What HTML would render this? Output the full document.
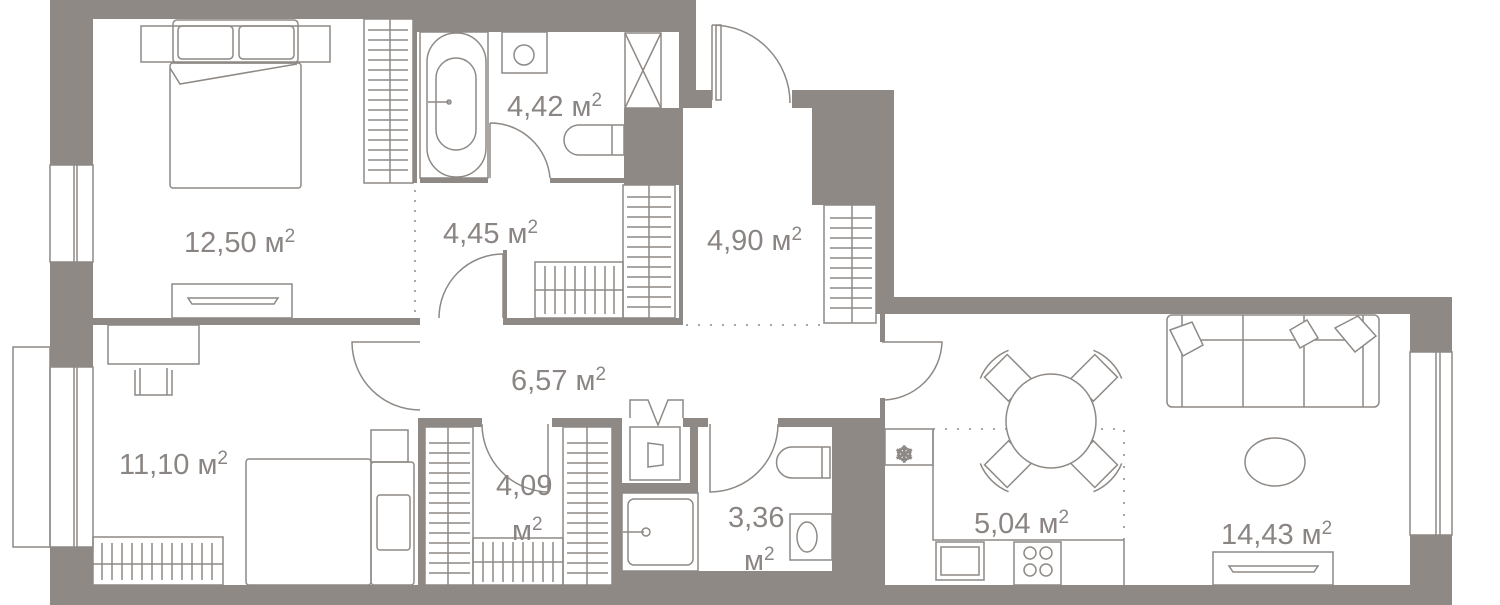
<!DOCTYPE html>
<html><head><meta charset="utf-8"><style>
html,body{margin:0;padding:0;background:#fff;width:1500px;height:605px;overflow:hidden}
svg{display:block}
text{font-family:"Liberation Sans Narrow","Liberation Sans",sans-serif;fill:#8a8582;font-size:29px}
</style></head><body>
<svg width="1500" height="605" viewBox="0 0 1500 605" xmlns="http://www.w3.org/2000/svg">
<g fill="#8e8985">
<rect x="50" y="0" width="646" height="19"/>
<rect x="413" y="19" width="283" height="13"/>
<rect x="679" y="0" width="17" height="90"/>
<rect x="679" y="90" width="33" height="18"/>
<rect x="624" y="108" width="59" height="77"/>
<rect x="679" y="108" width="4" height="217"/>
<rect x="50" y="0" width="43" height="165"/>
<rect x="50" y="262" width="43" height="105"/>
<rect x="50" y="547" width="43" height="58"/>
<rect x="93" y="318" width="327" height="7"/>
<rect x="503" y="318" width="180" height="7"/>
<rect x="420" y="178" width="68" height="5"/>
<rect x="550" y="178" width="74" height="5"/>
<rect x="413" y="19" width="4" height="164"/>
<rect x="503" y="250" width="4" height="75"/>
<rect x="792" y="90" width="102" height="18"/>
<rect x="812" y="108" width="82" height="97"/>
<rect x="876" y="205" width="18" height="95"/>
<rect x="876" y="297" width="534" height="17"/>
<rect x="1410" y="297" width="42" height="55"/>
<rect x="1410" y="535" width="42" height="70"/>
<rect x="50" y="585" width="1402" height="20"/>
<rect x="880" y="314" width="5" height="28"/>
<rect x="880" y="398" width="5" height="30"/>
<rect x="832" y="418" width="53" height="167"/>
<rect x="418" y="418" width="64" height="9"/>
<rect x="552" y="418" width="70" height="9"/>
<rect x="683" y="418" width="25" height="9"/>
<rect x="778" y="418" width="54" height="9"/>
<rect x="418" y="418" width="7" height="167"/>
<rect x="612" y="418" width="10" height="167"/>
<rect x="690" y="418" width="8" height="75"/>
<rect x="622" y="483" width="76" height="10"/>
<rect x="622" y="571" width="210" height="14"/>
</g>
<g fill="none" stroke="#8e8985" stroke-width="1.5">
<rect x="50" y="165" width="43" height="97"/><line x1="74" y1="165" x2="74" y2="262"/><line x1="77" y1="165" x2="77" y2="262"/>
<rect x="13" y="347" width="37" height="200"/><rect x="50" y="367" width="43" height="180"/><line x1="74" y1="367" x2="74" y2="547"/><line x1="77" y1="367" x2="77" y2="547"/>
<rect x="1410" y="352" width="42" height="183"/><line x1="1436" y1="352" x2="1436" y2="535"/><line x1="1440" y1="352" x2="1440" y2="535"/>
<rect x="141" y="26" width="189" height="36"/>
<rect x="173" y="20" width="125" height="43" rx="4"/>
<rect x="178" y="26" width="55" height="33" rx="4"/><rect x="239" y="26" width="55" height="33" rx="4"/>
<rect x="170" y="63" width="131" height="125" rx="3"/>
<polyline points="170,68 180,84 297,64"/>
<rect x="172" y="284" width="120" height="34"/><path d="M188 298 H278 L274 304 H192 Z"/>
<rect x="364" y="19" width="49" height="164"/><line x1="390" y1="19" x2="390" y2="183"/>
<path d="M368 30H408M368 40H408M368 50H408M368 60H408M368 70H408M368 80H408M368 90H408M368 100H408M368 110H408M368 120H408M368 130H408M368 140H408M368 150H408M368 160H408M368 170H408"/>
<rect x="420" y="32" width="68" height="146"/>
<rect x="427" y="33" width="59" height="144" rx="29"/><rect x="436" y="58" width="40" height="92" rx="20"/>
<line x1="428" y1="102" x2="450" y2="102"/><circle cx="449" cy="102" r="2"/>
<rect x="502" y="32" width="45" height="41"/><circle cx="524" cy="55" r="10"/>
<rect x="625" y="33" width="36" height="75"/><path d="M625 33L661 108M661 33L625 108"/>
<path d="M579 125 H624 V155 H579 A15 15 0 0 1 579 125Z"/><line x1="612" y1="125" x2="612" y2="155"/>
<path d="M490 123 V178 M490 123 A60 60 0 0 1 550 178"/>
<line x1="415" y1="190" x2="415" y2="318" stroke-dasharray="2 8"/>
<path d="M503 254 V318 M503 254 A64 64 0 0 0 439 318"/>
<rect x="535" y="262" width="88" height="56"/><line x1="535" y1="290" x2="623" y2="290"/>
<path d="M545 266V314M555 266V314M565 266V314M575 266V314M585 266V314M595 266V314M605 266V314M614 266V314"/>
<rect x="623" y="185" width="52" height="133"/><line x1="649" y1="185" x2="649" y2="318"/>
<path d="M627 197H671M627 207H671M627 217H671M627 227H671M627 237H671M627 247H671M627 257H671M627 267H671M627 277H671M627 287H671M627 297H671M627 307H671"/>
<path d="M712 25 V100 M712 25 A78 78 0 0 1 790 103"/><rect x="716" y="25" width="5" height="75"/>
<rect x="824" y="205" width="52" height="118"/><line x1="852" y1="205" x2="852" y2="323"/>
<path d="M830 218H872M830 228H872M830 238H872M830 248H872M830 258H872M830 268H872M830 278H872M830 288H872M830 298H872M830 308H872"/>
<line x1="686" y1="325" x2="820" y2="325" stroke-dasharray="2 10"/>
<path d="M420 342 H352 A68 68 0 0 0 420 410"/>
<path d="M882 342 H942 A60 60 0 0 1 882 400"/>
<path d="M482 424 A68 68 0 0 0 548 492 V424"/>
<path d="M778 424 A68 68 0 0 1 710 492 V424"/>
<path d="M630 418 V400 H648 L658 425 L668 400 H683 V418"/>
<rect x="108" y="325" width="91" height="39"/>
<path d="M135 370 V395 H172 V370 M140 368 V395 M167 368 V395"/>
<rect x="93" y="537" width="130" height="48"/><line x1="93" y1="564" x2="223" y2="564"/>
<path d="M102 543V580M112 543V580M122 543V580M132 543V580M142 543V580M152 543V580M162 543V580M172 543V580M182 543V580M192 543V580M202 543V580M212 543V580"/>
<rect x="246" y="459" width="125" height="126" rx="3"/>
<rect x="371" y="430" width="37" height="32"/>
<rect x="371" y="462" width="43" height="123" rx="3"/><rect x="377" y="495" width="33" height="55" rx="3"/>
<rect x="425" y="427" width="48" height="158"/><line x1="448" y1="427" x2="448" y2="585"/>
<path d="M429 443H470M429 453H470M429 463H470M429 473H470M429 483H470M429 493H470M429 503H470M429 513H470M429 523H470M429 533H470M429 543H470M429 553H470M429 563H470M429 573H470"/>
<rect x="563" y="427" width="49" height="158"/><line x1="587" y1="427" x2="587" y2="585"/>
<path d="M567 443H608M567 453H608M567 463H608M567 473H608M567 483H608M567 493H608M567 503H608M567 513H608M567 523H608M567 533H608M567 543H608M567 553H608M567 563H608M567 573H608"/>
<rect x="473" y="538" width="90" height="47"/><line x1="473" y1="562" x2="563" y2="562"/>
<path d="M483 542V582M493 542V582M503 542V582M513 542V582M523 542V582M533 542V582M543 542V582M553 542V582"/>
<rect x="630" y="427" width="50" height="53"/><path d="M648 443 L663 445 V465 L648 467 Z"/>
<rect x="622" y="493" width="76" height="78"/><rect x="628" y="499" width="65" height="66" rx="6"/>
<path d="M623 532 H644"/><circle cx="646" cy="532" r="4"/>
<path d="M792 447 H830 V478 H792 A15 15 0 0 1 792 447Z"/><line x1="822" y1="447" x2="822" y2="478"/>
<rect x="790" y="514" width="42" height="46"/><ellipse cx="807" cy="537" rx="10" ry="15"/>
<rect x="885" y="429" width="48" height="36"/>
<text x="895" y="462" style="font-size:22px">❄</text>
<path d="M933 429 V540 H1124"/>
<path d="M933 429 H1124 V540" stroke-dasharray="2 10"/>
<rect x="936" y="542" width="48" height="38"/><rect x="941" y="547" width="38" height="28"/>
<rect x="1014" y="542" width="47" height="43"/><circle cx="1030" cy="553" r="6"/><circle cx="1046" cy="553" r="6"/><circle cx="1030" cy="570" r="6"/><circle cx="1046" cy="570" r="6"/>
<line x1="1124" y1="540" x2="1124" y2="585"/>
<g transform="translate(1051,421)">
<g transform="rotate(-45)"><path d="M-16 -44 H16 V-78 H-16 Z M-20 -80 A40 30 0 0 1 20 -80"/></g>
<g transform="rotate(45)"><path d="M-16 -44 H16 V-78 H-16 Z M-20 -80 A40 30 0 0 1 20 -80"/></g>
<g transform="rotate(135)"><path d="M-16 -44 H16 V-78 H-16 Z M-20 -80 A40 30 0 0 1 20 -80"/></g>
<g transform="rotate(225)"><path d="M-16 -44 H16 V-78 H-16 Z M-20 -80 A40 30 0 0 1 20 -80"/></g>
</g>
<ellipse cx="1051" cy="421" rx="45" ry="47" fill="#fff"/>
<rect x="1167" y="315" width="212" height="92" rx="5"/>
<path d="M1182 315 V407 M1243 315 V407 M1304 315 V407 M1363 315 V407 M1182 340 H1363"/>
<path d="M1170 330 L1192 322 L1203 345 L1183 356 Z M1290 330 L1307 320 L1318 338 L1300 348 Z M1335 328 L1358 316 L1376 336 L1355 352 Z" fill="#fff"/>
<circle cx="1258" cy="458" r="12"/><ellipse cx="1275" cy="462" rx="30" ry="24" fill="#fff"/>
<rect x="1213" y="552" width="120" height="33"/><path d="M1229 566 H1318 L1314 572 H1233 Z"/>
</g>
<text x="184" y="252">12,50 м<tspan dy="-10" style="font-size:19px">2</tspan></text>
<text x="507" y="116">4,42 м<tspan dy="-10" style="font-size:19px">2</tspan></text>
<text x="443" y="243">4,45 м<tspan dy="-10" style="font-size:19px">2</tspan></text>
<text x="707" y="250">4,90 м<tspan dy="-10" style="font-size:19px">2</tspan></text>
<text x="511" y="390">6,57 м<tspan dy="-10" style="font-size:19px">2</tspan></text>
<text x="119" y="474">11,10 м<tspan dy="-10" style="font-size:19px">2</tspan></text>
<text x="496" y="495">4,09</text>
<text x="512" y="540">м<tspan dy="-10" style="font-size:19px">2</tspan></text>
<text x="728" y="527">3,36</text>
<text x="744" y="570">м<tspan dy="-10" style="font-size:19px">2</tspan></text>
<text x="974" y="533">5,04 м<tspan dy="-10" style="font-size:19px">2</tspan></text>
<text x="1221" y="544">14,43 м<tspan dy="-10" style="font-size:19px">2</tspan></text>
</svg>
</body></html>
